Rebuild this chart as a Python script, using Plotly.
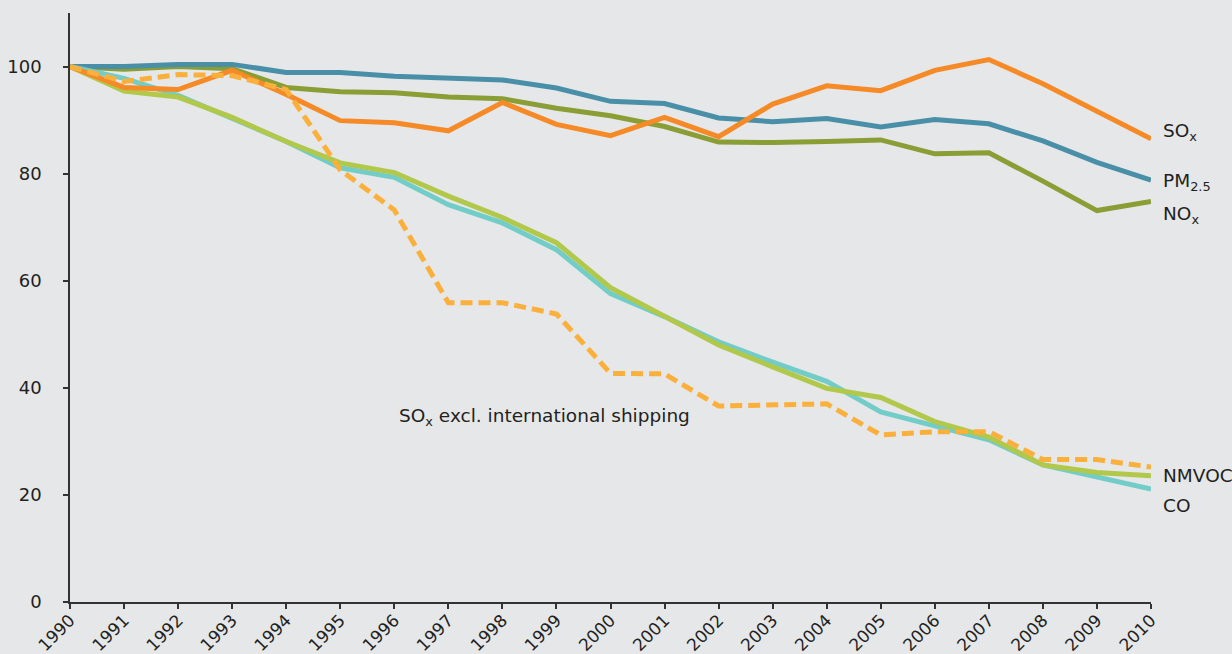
import plotly.graph_objects as go

years = list(range(1990, 2011))

so_x = [100, 96.1, 95.7, 99.3, 94.8, 89.9, 89.5, 88.0, 93.3, 89.2, 87.1, 90.5, 86.9, 93.0, 96.4, 95.5, 99.3, 101.3, 96.8, 91.6, 86.5]
pm25 = [100, 100, 100.4, 100.4, 98.9, 98.9, 98.2, 97.9, 97.5, 96.0, 93.5, 93.1, 90.4, 89.7, 90.3, 88.7, 90.1, 89.3, 86.1, 82.1, 78.8]
no_x = [100, 99.5, 100.0, 99.6, 96.1, 95.3, 95.1, 94.3, 94.0, 92.2, 90.8, 88.8, 85.9, 85.8, 86.0, 86.3, 83.7, 83.9, 78.6, 73.1, 74.8]
nmvoc = [100, 95.4, 94.3, 90.5, 86.0, 82.0, 80.2, 75.8, 71.8, 67.1, 58.7, 53.3, 48.0, 43.9, 39.9, 38.2, 33.7, 30.8, 25.6, 24.2, 23.6]
co = [100, 97.8, 94.6, 90.4, 86.0, 81.1, 79.3, 74.2, 70.8, 65.8, 57.6, 53.3, 48.6, 44.8, 41.2, 35.5, 32.9, 30.3, 25.6, 23.3, 21.1]
so_x_excl = [100, 97.2, 98.5, 98.3, 95.7, 80.7, 73.2, 55.9, 55.9, 53.8, 42.7, 42.6, 36.6, 36.8, 37.0, 31.2, 31.8, 31.8, 26.6, 26.6, 25.2]

series = [
    ("NO<sub>x</sub>", no_x, "#8A9E36", "solid"),
    ("PM<sub>2.5</sub>", pm25, "#4A8FA8", "solid"),
    ("CO", co, "#72CCC8", "solid"),
    ("NMVOC", nmvoc, "#B1C84A", "solid"),
    ("SO<sub>x</sub>", so_x, "#F58A26", "solid"),
    ("SO<sub>x</sub> excl. international shipping", so_x_excl, "#FBB03B", "12px,6px"),
]

end_labels = [
    ("SO<sub>x</sub>", 87.7),
    ("PM<sub>2.5</sub>", 78.5),
    ("NO<sub>x</sub>", 72.3),
    ("NMVOC", 23.6),
    ("CO", 18.1),
]

FS = 18.5
TFS = 18
XFS = 17
fig = go.Figure()
for name, vals, color, dash in series:
    fig.add_trace(go.Scatter(
        x=years, y=vals, mode="lines", name=name,
        line=dict(color=color, width=5, dash=dash),
        showlegend=False, hoverinfo="skip", cliponaxis=False,
    ))

annotations = []
for text, yv in end_labels:
    annotations.append(dict(x=1.0095, y=yv, xref="paper", yref="y", text=text,
                            showarrow=False, xanchor="left", yanchor="middle",
                            font=dict(size=FS, color="#231F20")))
annotations.append(dict(x=1996.05, y=34.6, xref="x", yref="y",
                        text="SO<sub>x</sub> excl. international shipping",
                        showarrow=False, xanchor="left", yanchor="middle",
                        font=dict(size=FS, color="#231F20")))

bg = "#E6E7E9"
fig.update_layout(
    width=1232, height=654,
    margin=dict(l=70, r=81, t=13, b=52),
    paper_bgcolor=bg, plot_bgcolor=bg,
    font=dict(family="DejaVu Sans, Verdana, sans-serif", size=FS, color="#231F20"),
    annotations=annotations,
    xaxis=dict(
        range=[1990, 2010], tickmode="array", tickvals=years,
        ticktext=[str(y) for y in years], tickangle=-45, automargin=False,
        showgrid=False, zeroline=False, showline=True, linecolor="#333333", linewidth=1.5,
        ticks="outside", ticklen=5, tickwidth=1.5, tickcolor="#333333",
        tickfont=dict(size=XFS), ticklabelstandoff=-5,
    ),
    yaxis=dict(
        range=[0, 110], tickmode="array", tickvals=[0, 20, 40, 60, 80, 100], automargin=False,
        showgrid=False, zeroline=False, showline=True, linecolor="#333333", linewidth=1.5,
        ticks="outside", ticklen=5, tickwidth=1.5, tickcolor="#333333",
        tickfont=dict(size=TFS), ticklabelstandoff=18,
    ),
)

fig.write_html(
    "out.html",
    config={"displayModeBar": False},
    post_script="document.body.style.margin='0';document.body.style.padding='0';document.body.style.background='#E6E7E9';",
)
